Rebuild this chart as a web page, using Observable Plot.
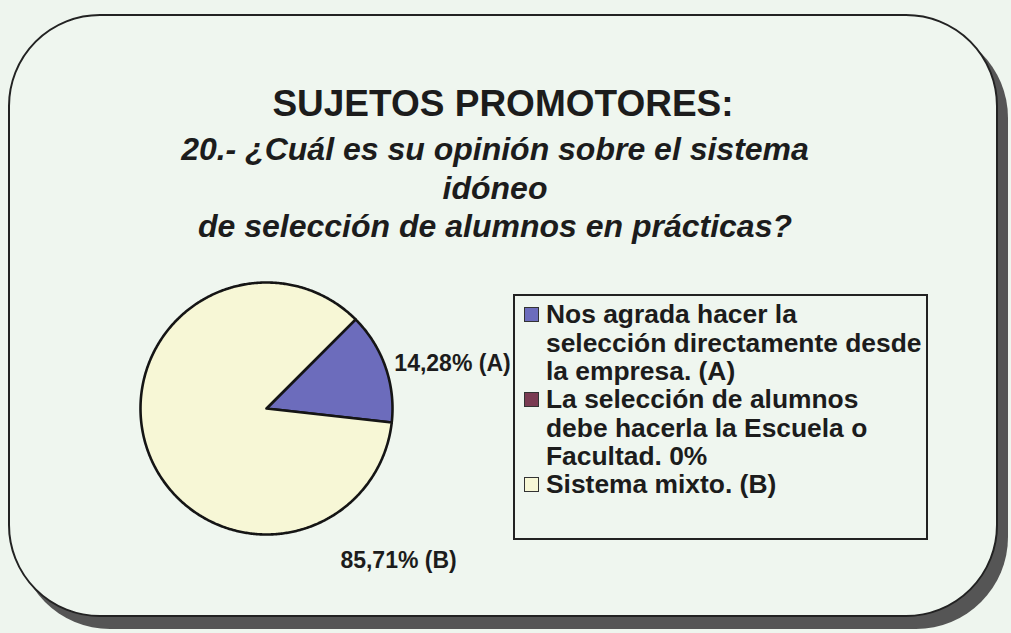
<!DOCTYPE html>
<html>
<head>
<meta charset="utf-8">
<script src="https://cdn.jsdelivr.net/npm/d3@7"></script>
<script src="https://cdn.jsdelivr.net/npm/@observablehq/plot@0.6"></script>
<style>
html,body{margin:0;padding:0;background:#eef5ee;}
#page{position:relative;width:1011px;height:633px;overflow:hidden;font-family:"Liberation Sans",Arial,sans-serif;color:#1c1c1c;}
#frame{position:absolute;left:8px;top:14px;width:986px;height:599px;border:2px solid #222;border-radius:92px;background:#eff6ef;box-shadow:10px 12px 0 #555;}
#title{position:absolute;left:0;width:1006px;top:86px;text-align:center;font-weight:bold;font-size:37px;line-height:36px;white-space:nowrap;}
#subtitle{position:absolute;left:0;width:990px;top:130px;text-align:center;font-weight:bold;font-style:italic;font-size:32px;line-height:38.5px;white-space:nowrap;}
#chart{position:absolute;left:120px;top:270px;}
#legend{position:absolute;left:513px;top:294px;width:411px;height:242px;border:2px solid #222;}
.item{position:absolute;left:31px;font-weight:bold;font-size:26.4px;line-height:28.5px;white-space:pre;}
.sw{position:absolute;left:-22px;top:7px;width:13px;height:13px;border:1.5px solid #333;}
</style>
</head>
<body>
<div id="page">
  <div id="frame"></div>
  <div id="title"></div>
  <div id="subtitle"></div>
  <div id="chart"></div>
  <div id="legend"></div>
</div>
<script>
// ---- data ----
const titleText = "SUJETOS PROMOTORES:";
const subtitleLines = ["20.- ¿Cuál es su opinión sobre el sistema", "idóneo", "de selección de alumnos en prácticas?"];
const categories = [
  "Nos agrada hacer la\nselección directamente desde\nla empresa. (A)",
  "La selección de alumnos\ndebe hacerla la Escuela o\nFacultad. 0%",
  "Sistema mixto. (B)"
];
const tags = ["(A)", "", "(B)"];
const values = [14.28, 0, 85.71];
const colors = ["#6c6cbc", "#7a3b52", "#f7f7d6"];

// ---- layout ----
const W = 420, H = 320, cx = 146, cy = 138, R = 126;
const startDeg = 45;
const legendTops = [0, 85, 170];

document.getElementById("title").textContent = titleText;
document.getElementById("subtitle").innerHTML = subtitleLines.join("<br>");

const pie = d3.pie().sort(null).value(d => d.value)
  .startAngle(startDeg * Math.PI / 180).endAngle(startDeg * Math.PI / 180 + 2 * Math.PI);
const rows = categories.map((c, i) => ({cat: c, value: values[i], tag: tags[i]}));
const arcs = pie(rows);

const poly = [];
arcs.forEach(a => {
  if (a.data.value <= 0) return;
  poly.push({cat: a.data.cat, x: 0, y: 0});
  const n = Math.max(2, Math.ceil((a.endAngle - a.startAngle) / 0.01));
  for (let k = 0; k <= n; k++) {
    const t = a.startAngle + (a.endAngle - a.startAngle) * k / n;
    poly.push({cat: a.data.cat, x: Math.sin(t), y: Math.cos(t)});
  }
});

const fmt = v => v.toFixed(2).replace(".", ",") + "%";
const labelPlace = [
  a => { const m = (a.startAngle + a.endAngle) / 2; return {x: 1.075 * Math.sin(m), y: 1.075 * Math.cos(m), anchor: "start"}; },
  null,
  a => ({x: 1.048, y: -1.206, anchor: "middle"})
];
const labels = arcs.filter((a, i) => a.data.value > 0 && labelPlace[i]).map(a => {
  const i = arcs.indexOf(a);
  const p = labelPlace[i](a);
  return {text: fmt(a.data.value) + " " + a.data.tag, x: p.x, y: p.y, anchor: p.anchor};
});

const chart = Plot.plot({
  width: W, height: H,
  margin: 0,
  style: {background: "transparent", fontFamily: "Liberation Sans, Arial, sans-serif", overflow: "visible"},
  x: {axis: null, domain: [-cx / R, (W - cx) / R], range: [0, W]},
  y: {axis: null, domain: [-(H - cy) / R, cy / R], range: [H, 0]},
  color: {domain: categories, range: colors},
  marks: [
    Plot.line(poly, {x: "x", y: "y", z: "cat", fill: "cat", stroke: "#151515", strokeWidth: 2.6, strokeLinejoin: "round", curve: "linear-closed"}),
    Plot.text(labels.filter(d => d.anchor === "start"), {x: "x", y: "y", text: "text", textAnchor: "start", fontSize: 23, fontWeight: "bold", fill: "#1c1c1c"}),
    Plot.text(labels.filter(d => d.anchor === "middle"), {x: "x", y: "y", text: "text", textAnchor: "middle", fontSize: 23, fontWeight: "bold", fill: "#1c1c1c"})
  ]
});
document.getElementById("chart").appendChild(chart);

const legend = document.getElementById("legend");
categories.forEach((c, i) => {
  const it = document.createElement("div");
  it.className = "item";
  it.style.top = (4 + legendTops[i]) + "px";
  it.textContent = c;
  const sw = document.createElement("span");
  sw.className = "sw";
  sw.style.background = colors[i];
  it.appendChild(sw);
  legend.appendChild(it);
});
</script>
</body>
</html>
